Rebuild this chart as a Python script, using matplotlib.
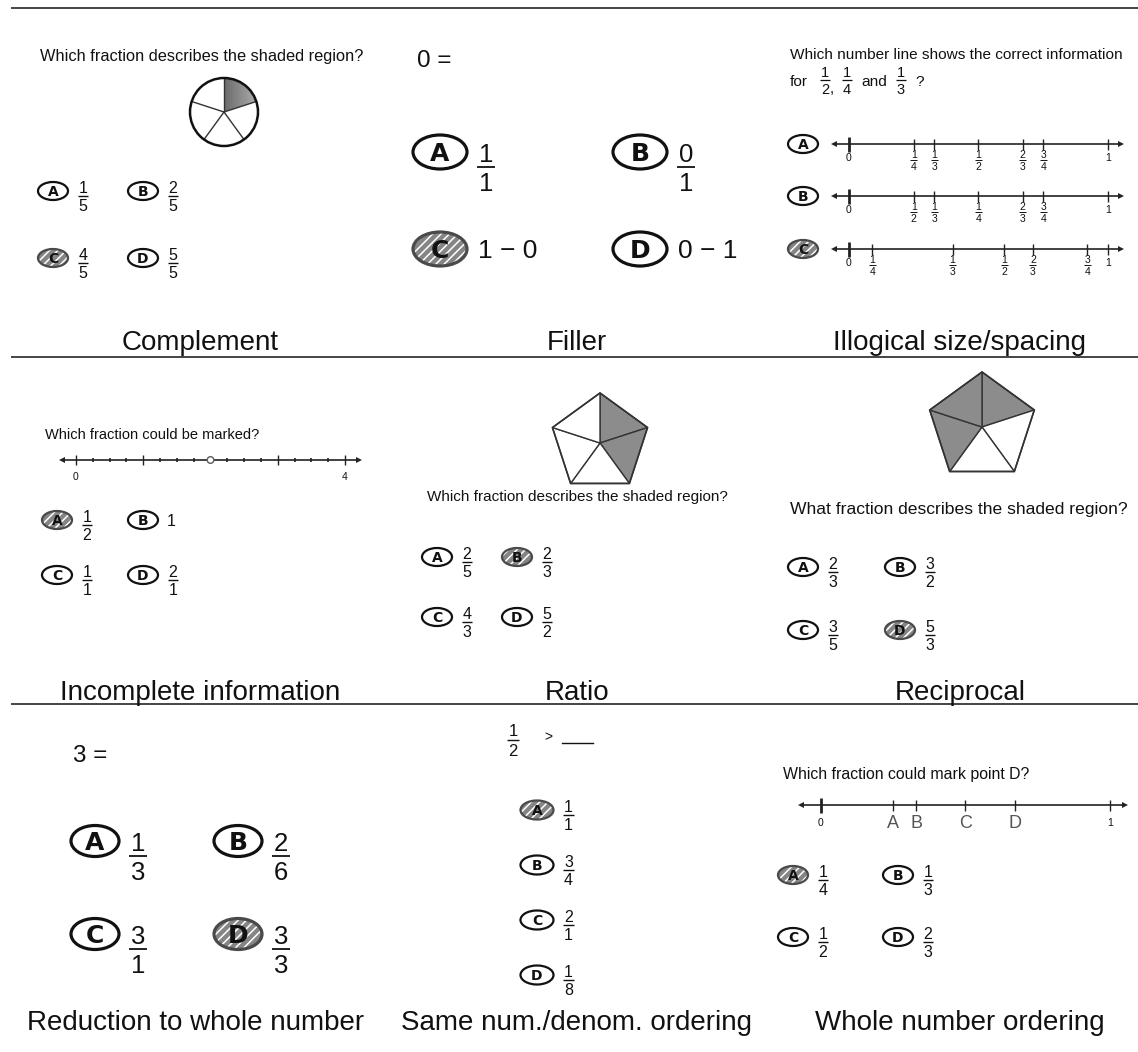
import numpy as np
import matplotlib
matplotlib.use("Agg")
import matplotlib.pyplot as plt
from matplotlib.patches import Ellipse, Polygon, Circle

plt.rcParams["font.family"] = ["Liberation Sans", "DejaVu Sans"]
plt.rcParams["hatch.linewidth"] = 1.1
plt.rcParams["hatch.color"] = "white"

# ---------------- data ----------------
LETTERS = ["A", "B", "C", "D"]
panel_titles = ["Complement", "Filler", "Illogical size/spacing",
                "Incomplete information", "Ratio", "Reciprocal",
                "Reduction to whole number", "Same num./denom. ordering",
                "Whole number ordering"]

complement_question = "Which fraction describes the shaded region?"
complement_choices = ["1/5", "2/5", "4/5", "5/5"]
complement_answer = "C"
pie_parts = 5
pie_shaded = [0]

filler_prompt = "0 ="
filler_choices = ["1/1", "0/1", "1 \u2212 0", "0 \u2212 1"]
filler_answer = "C"

illogical_question = "Which number line shows the correct information"
illogical_question_fracs = ["1/2", "1/4", "1/3"]
illogical_lines = ["A", "B", "C"]
illogical_answer = "C"
illogical_tick_pos = {"A": [0.25, 0.33, 0.50, 0.67, 0.75],
                      "B": [0.25, 0.33, 0.50, 0.67, 0.75],
                      "C": [0.09, 0.40, 0.60, 0.71, 0.92]}
illogical_tick_labels = {"A": ["1/4", "1/3", "1/2", "2/3", "3/4"],
                         "B": ["1/2", "1/3", "1/4", "2/3", "3/4"],
                         "C": ["1/4", "1/3", "1/2", "2/3", "3/4"]}

incomplete_question = "Which fraction could be marked?"
incomplete_max = 4
incomplete_subdiv = 4
incomplete_marked = 2
incomplete_choices = ["1/2", "1", "1/1", "2/1"]
incomplete_answer = "A"

ratio_question = "Which fraction describes the shaded region?"
ratio_shaded = [0, 1]
ratio_choices = ["2/5", "2/3", "4/3", "5/2"]
ratio_answer = "B"

recip_question = "What fraction describes the shaded region?"
recip_shaded = [0, 3, 4]
recip_choices = ["2/3", "3/2", "3/5", "5/3"]
recip_answer = "D"

reduction_prompt = "3 ="
reduction_choices = ["1/3", "2/6", "3/1", "3/3"]
reduction_answer = "D"

order_prompt = ["1/2", ">"]
order_choices = ["1/1", "3/4", "2/1", "1/8"]
order_answer = "A"

whole_question = "Which fraction could mark point D?"
whole_points = ["A", "B", "C", "D"]
whole_point_pos = [0.25, 0.33, 0.50, 0.67]
whole_choices = ["1/4", "1/3", "1/2", "2/3"]
whole_answer = "A"

# ---------------- drawing helpers ----------------
PX = 100 / 72.0
INK = "#111111"
LINE = "#222222"

fig = plt.figure(figsize=(11.38, 10.52), dpi=100)
ax = fig.add_axes([0, 0, 1, 1])
ax.set_xlim(0, 1138)
ax.set_ylim(1052, 0)
ax.axis("off")


def T(x, yc, s, fs, ha="left", color=INK, weight="normal", zorder=5, family=None):
    kw = {}
    if family:
        kw["family"] = family
    ax.text(x, yc + 0.358 * fs * PX, s, ha=ha, va="baseline", fontsize=fs,
            color=color, fontweight=weight, zorder=zorder, **kw)


def frac(x, ybar, s, fs, lw=1.0, gapf=0.3, color=INK):
    num, den = s.split("/")
    h = 0.716 * fs * PX
    g = gapf * h
    ax.text(x, ybar - g, num, ha="center", va="baseline", fontsize=fs, color=color, zorder=5)
    ax.text(x, ybar + g + h, den, ha="center", va="baseline", fontsize=fs, color=color, zorder=5)
    n = max(len(num), len(den))
    bw = n * 0.556 * fs * PX + 0.12 * fs * PX
    ax.plot([x - bw / 2, x + bw / 2], [ybar, ybar], color=color, lw=lw,
            solid_capstyle="butt", zorder=5)


def badge(x, y, letter, w, h, fs, selected, lw):
    if selected:
        ax.add_patch(Ellipse((x, y), w, h, facecolor="#858585", edgecolor="white",
                             lw=0, hatch="////", zorder=3))
        ax.add_patch(Ellipse((x, y), w, h, facecolor="none", edgecolor="#4a4a4a",
                             lw=lw, zorder=4))
    else:
        ax.add_patch(Ellipse((x, y), w, h, facecolor="white", edgecolor=INK,
                             lw=lw, zorder=3))
    T(x, y, letter, fs, ha="center", weight="bold", zorder=6, family="DejaVu Sans")


def choice(x, y, letter, value, answer, big=False, w=None, h=None):
    sel = (letter == answer)
    if big:
        bw, bh = (w or 54), (h or 34)
        badge(x, y, letter, bw, bh, 18, sel, 2.3)
        if "/" in value:
            frac(x + bw / 2 + 19, y + 15, value, 18.5, lw=1.3, gapf=0.28)
        else:
            T(x + bw / 2 + 11, y, value, 19)
    else:
        bw, bh = (w or 30), (h or 18)
        badge(x, y, letter, bw, bh, 10, sel, 1.6)
        if "/" in value:
            frac(x + bw / 2 + 15, y + 5, value, 11.5, lw=1.0)
        else:
            T(x + bw / 2 + 9, y, value, 11.5)


def numline(x0, x1, y, lw=1.2):
    ax.plot([x0 + 3, x1 - 3], [y, y], color=LINE, lw=lw, zorder=4)
    ax.plot([x0], [y], marker="<", ms=4, color=LINE, zorder=4, mew=0)
    ax.plot([x1], [y], marker=">", ms=4, color=LINE, zorder=4, mew=0)


def tick(x, y, half=5.5, lw=1.0, color=LINE):
    ax.plot([x, x], [y - half, y + half], color=color, lw=lw, zorder=4,
            solid_capstyle="butt")


def polygon_parts(cx, cy, r, n, shaded, start=90.0):
    ang = np.radians(start - 360.0 / n * np.arange(n + 1))
    vx = cx + r * np.cos(ang)
    vy = cy - r * np.sin(ang)
    for i in range(n):
        pts = [(cx, cy), (vx[i], vy[i]), (vx[i + 1], vy[i + 1])]
        ax.add_patch(Polygon(pts, closed=True,
                             facecolor="#8c8c8c" if i in shaded else "white",
                             edgecolor="#333333", lw=1.0, joinstyle="miter", zorder=3))
    ax.add_patch(Polygon(list(zip(vx[:-1], vy[:-1])), closed=True, facecolor="none",
                         edgecolor="#333333", lw=1.2, zorder=4))


# ---------------- separators ----------------
for yy in (8, 357, 704):
    ax.plot([12, 1138], [yy, yy], color="#444444", lw=1.4, zorder=2)

# ---------------- panel 1: Complement ----------------
T(40, 55, complement_question, 11.8)
cx, cy, r = 224, 112, 34
for i in range(pie_parts):
    a0 = 90 - 360.0 / pie_parts * i
    a1 = a0 - 360.0 / pie_parts
    aa = np.radians(np.linspace(a0, a1, 40))
    pts = [(cx, cy)] + list(zip(cx + r * np.cos(aa), cy - r * np.sin(aa)))
    if i in pie_shaded:
        poly = Polygon(pts, closed=True, facecolor="none", edgecolor="none", zorder=3)
        ax.add_patch(poly)
        grad = np.linspace(0.42, 0.68, 64)[None, :].repeat(8, axis=0)
        im = ax.imshow(grad, cmap="gray", vmin=0, vmax=1, extent=(cx, cx + r, cy - r, cy),
                       origin="upper", zorder=3, interpolation="bilinear")
        im.set_clip_path(poly)
    ax.plot([cx, cx + r * np.cos(np.radians(a0))], [cy, cy - r * np.sin(np.radians(a0))],
            color="#333333", lw=1.0, zorder=4)
ax.add_patch(Circle((cx, cy), r, facecolor="none", edgecolor=INK, lw=1.8, zorder=5))
ax.set_xlim(0, 1138)
ax.set_ylim(1052, 0)

for L, v, (x, y) in zip(LETTERS, complement_choices,
                        [(53, 191), (143, 191), (53, 258), (143, 258)]):
    choice(x, y, L, v, complement_answer)
T(200, 340, panel_titles[0], 20, ha="center")

# ---------------- panel 2: Filler ----------------
T(417, 58, filler_prompt, 17.5)
for L, v, (x, y) in zip(LETTERS, filler_choices,
                        [(440, 152), (640, 152), (440, 249), (640, 249)]):
    choice(x, y, L, v, filler_answer, big=True)
T(577, 340, panel_titles[1], 20, ha="center")

# ---------------- panel 3: Illogical size/spacing ----------------
T(790, 53, illogical_question, 11.1)
T(790, 80, "for", 11.1)
frac(825, 80, illogical_question_fracs[0], 10.5, lw=0.9)
T(830, 88, ",", 11)
frac(847, 80, illogical_question_fracs[1], 10.5, lw=0.9)
T(861, 80, "and", 11.1)
frac(901, 80, illogical_question_fracs[2], 10.5, lw=0.9)
T(915, 80, "?", 11.1)

X0, X1 = 849, 1108
for key, y in zip(illogical_lines, [144, 196, 249]):
    choice(803, y, key, "", illogical_answer)
    numline(834, 1121, y)
    tick(X0, y, half=7.5, lw=2.0)
    tick(X1, y, half=5.5)
    T(X0, y + 13, "0", 7.5, ha="center")
    T(X1, y + 13, "1", 7.5, ha="center")
    for p, lab in zip(illogical_tick_pos[key], illogical_tick_labels[key]):
        xp = X0 + p * (X1 - X0)
        tick(xp, y, half=5.5)
        frac(xp, y + 16, lab, 7.5, lw=0.7)
T(960, 340, panel_titles[2], 20, ha="center")

# ---------------- panel 4: Incomplete information ----------------
T(45, 434, incomplete_question, 10.5)
ly, A0, A1 = 460, 76, 345
numline(62, 359, ly)
nsteps = incomplete_max * incomplete_subdiv
for k in range(nsteps + 1):
    xk = A0 + (A1 - A0) * k / nsteps
    if k % incomplete_subdiv == 0:
        if k / incomplete_subdiv == incomplete_marked:
            continue
        tick(xk, ly, half=5)
    else:
        tick(xk, ly, half=1.6, lw=1.2)
xm = A0 + (A1 - A0) * incomplete_marked / incomplete_max
ax.add_patch(Circle((xm, ly), 3.3, facecolor="white", edgecolor="#666666", lw=1.1, zorder=5))
T(A0, 476, "0", 7.5, ha="center")
T(A1, 476, str(incomplete_max), 7.5, ha="center")
for L, v, (x, y) in zip(LETTERS, incomplete_choices,
                        [(57, 520), (143, 520), (57, 575), (143, 575)]):
    choice(x, y, L, v, incomplete_answer)
T(200, 690, panel_titles[3], 20, ha="center")

# ---------------- panel 5: Ratio ----------------
polygon_parts(600, 443, 50, 5, ratio_shaded)
T(427, 496, ratio_question, 11)
for L, v, (x, y) in zip(LETTERS, ratio_choices,
                        [(437, 557), (517, 557), (437, 617), (517, 617)]):
    choice(x, y, L, v, ratio_answer)
T(577, 690, panel_titles[4], 20, ha="center")

# ---------------- panel 6: Reciprocal ----------------
polygon_parts(982, 427, 55, 5, recip_shaded)
T(790, 508, recip_question, 12.6)
for L, v, (x, y) in zip(LETTERS, recip_choices,
                        [(803, 567), (900, 567), (803, 630), (900, 630)]):
    choice(x, y, L, v, recip_answer)
T(960, 690, panel_titles[5], 20, ha="center")

# ---------------- panel 7: Reduction to whole number ----------------
T(73, 753, reduction_prompt, 17.5)
for L, v, (x, y) in zip(LETTERS, reduction_choices,
                        [(95, 841), (238, 841), (95, 934), (238, 934)]):
    choice(x, y, L, v, reduction_answer, big=True, w=48, h=31)
T(196, 1020, panel_titles[6], 20, ha="center")

# ---------------- panel 8: Same num./denom. ordering ----------------
frac(513, 740, order_prompt[0], 12, lw=1.0)
T(544, 736, order_prompt[1], 10)
ax.plot([562, 593], [743, 743], color=INK, lw=1.0, zorder=5)
for L, v, y in zip(LETTERS, order_choices, [810, 865, 920, 975]):
    choice(537, y, L, v, order_answer, w=33, h=19)
T(577, 1020, panel_titles[7], 20, ha="center")

# ---------------- panel 9: Whole number ordering ----------------
T(783, 773, whole_question, 11.4)
wy, W0, W1 = 805, 821, 1110
numline(801, 1125, wy)
tick(W0, wy, half=7.5, lw=2.0)
tick(W1, wy, half=5.5)
T(W0, wy + 17, "0", 7.5, ha="center")
T(W1, wy + 17, "1", 7.5, ha="center")
for name, p in zip(whole_points, whole_point_pos):
    xp = W0 + p * (W1 - W0)
    tick(xp, wy, half=5.5)
    T(xp, wy + 17, name, 13, ha="center", color="#555555")
for L, v, (x, y) in zip(LETTERS, whole_choices,
                        [(793, 875), (898, 875), (793, 937), (898, 937)]):
    choice(x, y, L, v, whole_answer)
T(960, 1020, panel_titles[8], 20, ha="center")

fig.savefig("out.png", dpi=100, facecolor="white")
